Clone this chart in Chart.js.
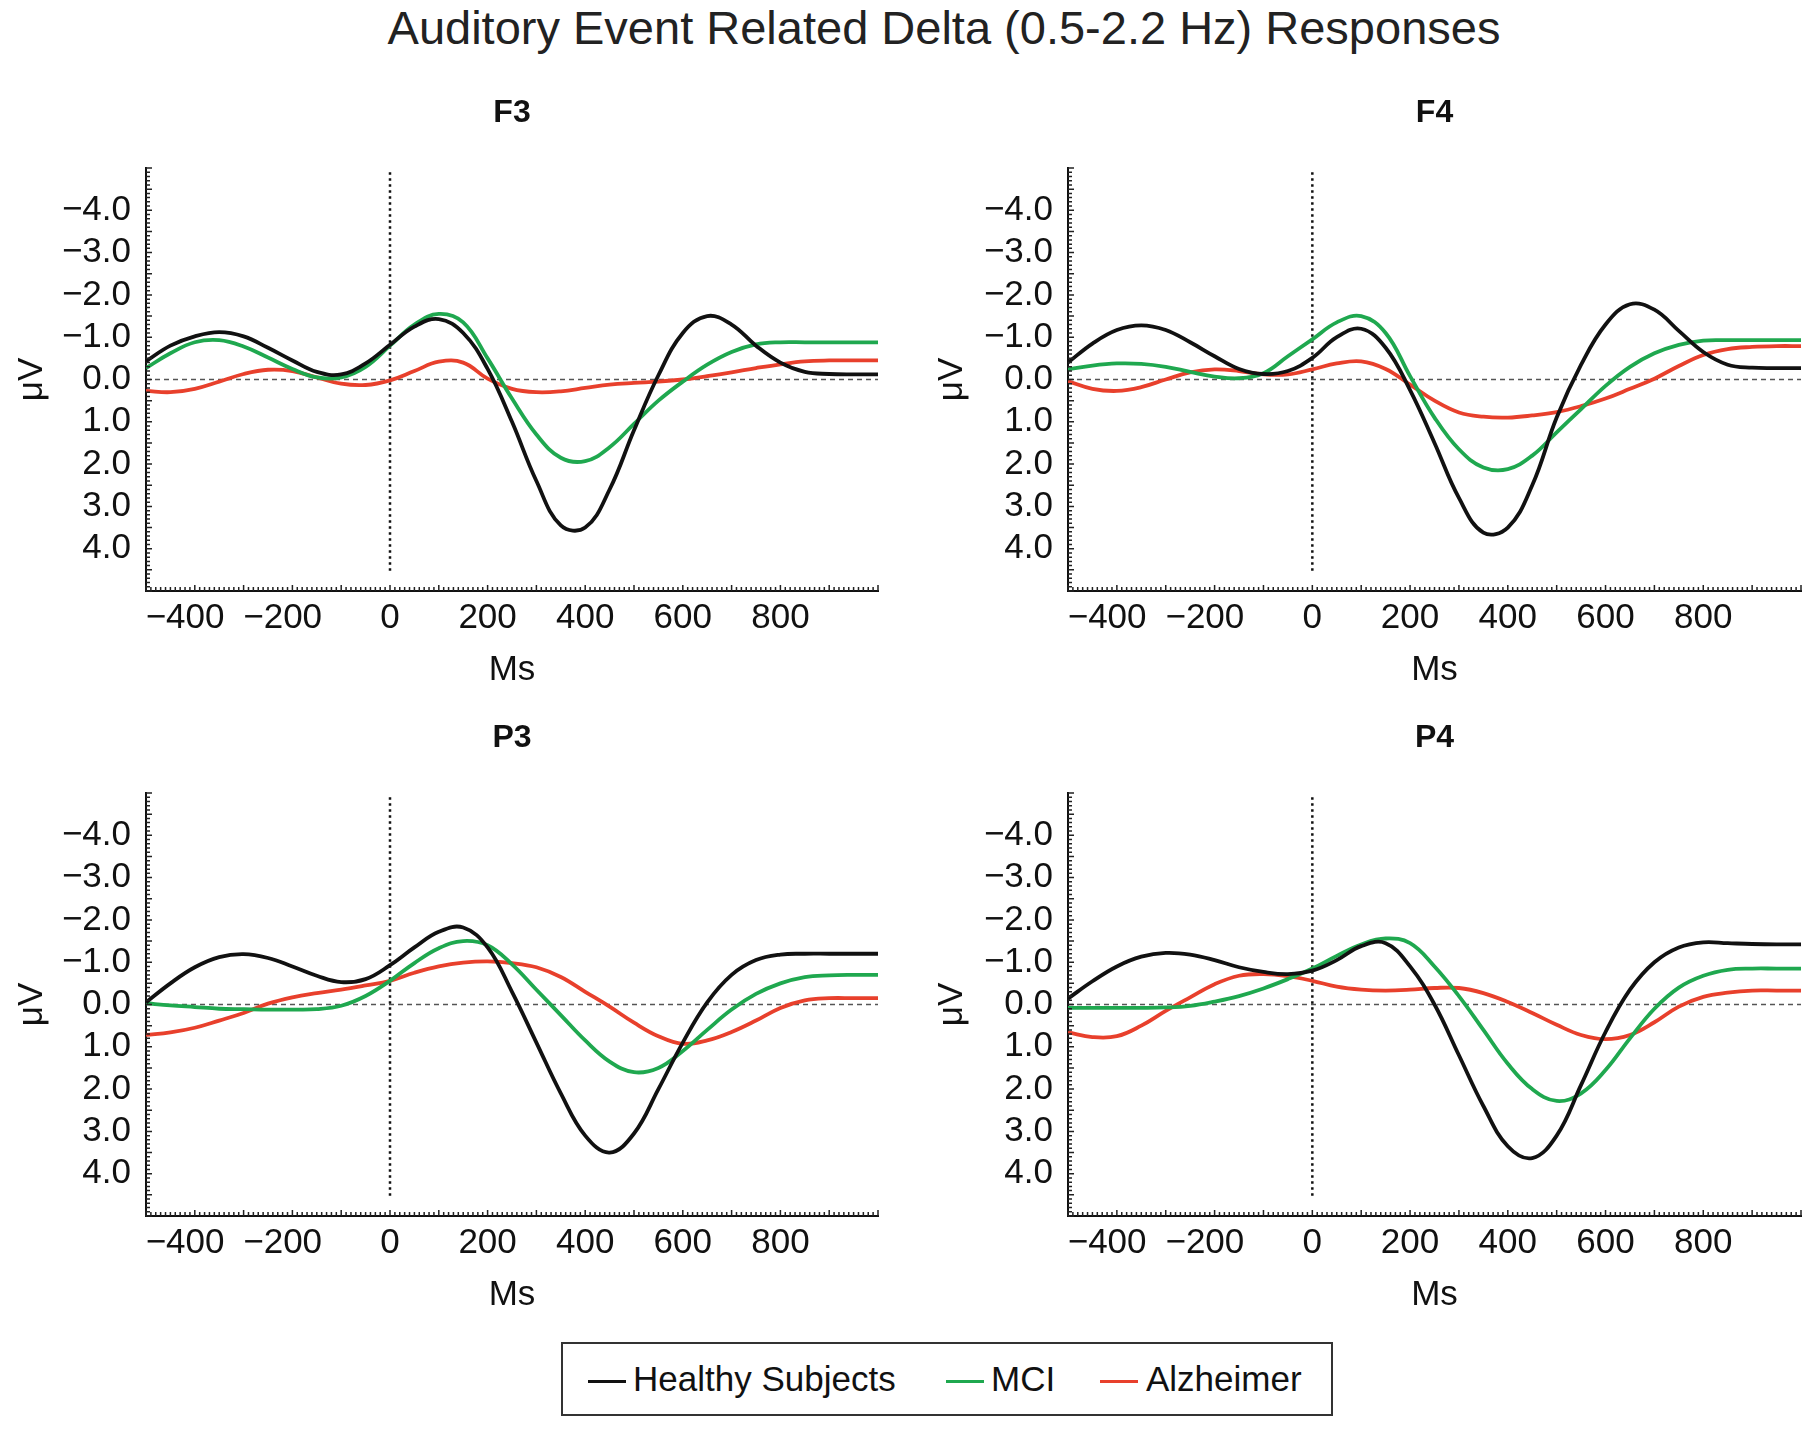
<!DOCTYPE html>
<html>
<head>
<meta charset="utf-8">
<title>Auditory Event Related Delta Responses</title>
<script src="https://cdn.jsdelivr.net/npm/chart.js@4.4.1/dist/chart.umd.min.js"></script>
<style>
  html, body { margin: 0; padding: 0; background: #fff; }
  body { width: 1813px; height: 1450px; position: relative; overflow: hidden;
         font-family: "Liberation Sans", Arial, sans-serif; color: #111; }
  #mainTitle { position: absolute; left: 244px; top: 4px; width: 1400px; text-align: center;
               font-size: 47px; line-height: 47px; color: #222; }
  .panel { position: absolute; height: 640px; }
  .panel canvas { display: block; }
  #legend { position: absolute; left: 561px; top: 1342px; width: 768px; height: 70px;
            border: 2px solid #333; }
  .lg-line { position: absolute; top: 36px; height: 3px; width: 38px; }
  .lg-text { position: absolute; top: 14px; font-size: 35px; line-height: 42px; }
</style>
</head>
<body>
<div id="mainTitle">Auditory Event Related Delta (0.5-2.2 Hz) Responses</div>

<div class="panel" style="left:0px;top:61px;width:906px;"><canvas id="chartF3"></canvas></div>
<div class="panel" style="left:906px;top:61px;width:907px;"><canvas id="chartF4"></canvas></div>
<div class="panel" style="left:0px;top:686px;width:906px;"><canvas id="chartP3"></canvas></div>
<div class="panel" style="left:906px;top:686px;width:907px;"><canvas id="chartP4"></canvas></div>

<div id="legend">
  <div class="lg-line" style="left:25px;background:#111;"></div>
  <div class="lg-text" style="left:70px;">Healthy Subjects</div>
  <div class="lg-line" style="left:383px;background:#1fa84f;"></div>
  <div class="lg-text" style="left:428px;">MCI</div>
  <div class="lg-line" style="left:537px;background:#e8402c;"></div>
  <div class="lg-text" style="left:583px;">Alzheimer</div>
</div>

<script>
// Time axis (ms) shared by every curve
const TIMES = [-500, -450, -400, -350, -300, -250, -200, -150, -100, -50,
               0, 50, 100, 150, 200, 250, 300, 350, 400, 450,
               500, 550, 600, 650, 700, 750, 800, 850, 900, 950, 1000];

const X_TICKS = [-400, -200, 0, 200, 400, 600, 800];
const Y_TICKS = [-4, -3, -2, -1, 0, 1, 2, 3, 4];

const SERIES_NAMES = ['Healthy Subjects', 'MCI', 'Alzheimer'];
const SERIES_COLORS = ['#111111', '#1fa84f', '#e8402c'];

// F3
const F3_HEALTHY = [-0.43, -0.8, -1.02, -1.12, -1.02, -0.75, -0.45, -0.18, -0.12, -0.38,
                    -0.82, -1.25, -1.43, -1.1, -0.25, 1.0, 2.4, 3.45, 3.5, 2.6,
                    1.2, -0.1, -1.1, -1.5, -1.3, -0.8, -0.4, -0.18, -0.13, -0.12, -0.12];
const F3_MCI = [-0.27, -0.62, -0.88, -0.93, -0.78, -0.52, -0.25, -0.05, -0.05, -0.3,
                -0.8, -1.3, -1.55, -1.35, -0.5, 0.45, 1.3, 1.85, 1.93, 1.6,
                1.05, 0.5, 0.05, -0.35, -0.65, -0.83, -0.88, -0.88, -0.88, -0.88, -0.88];
const F3_ALZ = [0.27, 0.3, 0.22, 0.05, -0.13, -0.23, -0.2, -0.05, 0.1, 0.13,
                0.02, -0.2, -0.42, -0.4, -0.02, 0.22, 0.3, 0.28, 0.2, 0.12,
                0.08, 0.05, 0.0, -0.08, -0.17, -0.27, -0.36, -0.43, -0.45, -0.45, -0.45];

// F4
const F4_HEALTHY = [-0.4, -0.85, -1.17, -1.28, -1.17, -0.88, -0.55, -0.25, -0.13, -0.2,
                    -0.51, -1.0, -1.2, -0.75, 0.25, 1.5, 2.8, 3.62, 3.5, 2.5,
                    0.9, -0.35, -1.3, -1.78, -1.65, -1.15, -0.65, -0.35, -0.28, -0.27, -0.27];
const F4_MCI = [-0.24, -0.33, -0.38, -0.37, -0.3, -0.18, -0.07, -0.03, -0.15, -0.55,
                -0.95, -1.35, -1.5, -1.1, -0.08, 0.9, 1.65, 2.08, 2.12, 1.8,
                1.25, 0.7, 0.15, -0.3, -0.62, -0.82, -0.92, -0.93, -0.93, -0.93, -0.93];
const F4_ALZ = [0.04, 0.22, 0.27, 0.18, 0.0, -0.17, -0.24, -0.2, -0.12, -0.12,
                -0.24, -0.38, -0.43, -0.25, 0.12, 0.5, 0.78, 0.88, 0.9, 0.85,
                0.77, 0.63, 0.45, 0.22, -0.02, -0.32, -0.58, -0.72, -0.77, -0.79, -0.79];

// P3
const P3_HEALTHY = [-0.05, -0.5, -0.88, -1.12, -1.19, -1.1, -0.9, -0.68, -0.53, -0.6,
                    -0.93, -1.35, -1.72, -1.82, -1.35, -0.3, 0.9, 2.1, 3.1, 3.5,
                    3.05, 2.0, 0.9, -0.05, -0.7, -1.05, -1.18, -1.2, -1.2, -1.2, -1.2];
const P3_MCI = [-0.03, 0.02, 0.06, 0.1, 0.11, 0.12, 0.12, 0.11, 0.03, -0.2,
                -0.56, -0.98, -1.33, -1.5, -1.4, -0.95, -0.35, 0.25, 0.85, 1.35,
                1.6, 1.5, 1.1, 0.6, 0.12, -0.25, -0.5, -0.65, -0.69, -0.7, -0.7];
const P3_ALZ = [0.72, 0.66, 0.55, 0.38, 0.2, -0.02, -0.17, -0.27, -0.35, -0.45,
                -0.56, -0.75, -0.9, -0.99, -1.02, -0.98, -0.88, -0.65, -0.3, 0.05,
                0.43, 0.75, 0.93, 0.85, 0.65, 0.38, 0.08, -0.1, -0.15, -0.15, -0.15];

// P4
const P4_HEALTHY = [-0.14, -0.55, -0.9, -1.13, -1.22, -1.18, -1.05, -0.88, -0.77, -0.72,
                    -0.8, -1.05, -1.38, -1.45, -0.9, 0.0, 1.2, 2.4, 3.35, 3.63,
                    3.1, 1.9, 0.65, -0.35, -1.0, -1.35, -1.47, -1.45, -1.43, -1.42, -1.42];
const P4_MCI = [0.08, 0.08, 0.08, 0.08, 0.07, 0.03, -0.07, -0.2, -0.38, -0.6,
                -0.85, -1.15, -1.42, -1.56, -1.45, -0.9, -0.2, 0.6, 1.4, 2.0,
                2.28, 2.1, 1.55, 0.8, 0.1, -0.4, -0.68, -0.82, -0.85, -0.85, -0.85];
const P4_ALZ = [0.66, 0.77, 0.75, 0.5, 0.15, -0.17, -0.48, -0.68, -0.72, -0.67,
                -0.56, -0.42, -0.35, -0.33, -0.35, -0.39, -0.39, -0.27, -0.06, 0.2,
                0.48, 0.72, 0.82, 0.72, 0.42, 0.05, -0.18, -0.28, -0.33, -0.33, -0.33];

const FONT = '"Liberation Sans", Arial, sans-serif';

function minusLabel(v, digits) {
  const txt = Math.abs(v).toFixed(digits);
  return v < 0 ? '\u2212' + txt : txt;
}

// Zero line, stimulus line and the small tick marks along both axes
const erpDecor = {
  id: 'erpDecor',
  beforeDatasetsDraw(chart) {
    const { ctx, chartArea, scales: { x, y } } = chart;
    ctx.save();
    // dashed zero line
    ctx.strokeStyle = '#555';
    ctx.lineWidth = 1.6;
    ctx.setLineDash([5, 4]);
    ctx.beginPath();
    ctx.moveTo(chartArea.left, y.getPixelForValue(0));
    ctx.lineTo(chartArea.right, y.getPixelForValue(0));
    ctx.stroke();
    // dotted stimulus onset line
    ctx.strokeStyle = '#111';
    ctx.lineWidth = 2.5;
    ctx.setLineDash([2.5, 3.5]);
    ctx.beginPath();
    ctx.moveTo(x.getPixelForValue(0), y.getPixelForValue(-4.9));
    ctx.lineTo(x.getPixelForValue(0), y.getPixelForValue(4.55));
    ctx.stroke();
    ctx.restore();
  },
  afterDraw(chart) {
    const { ctx, chartArea, scales: { x, y } } = chart;
    ctx.save();
    ctx.strokeStyle = '#222';
    ctx.lineWidth = 1.5;
    ctx.beginPath();
    for (let m = -500; m <= 1000; m += 10) {
      const px = x.getPixelForValue(m);
      const len = (m % 100 === 0) ? 6 : 4;
      ctx.moveTo(px, chartArea.bottom);
      ctx.lineTo(px, chartArea.bottom - len);
    }
    for (let k = -50; k <= 50; k++) {
      const py = y.getPixelForValue(k / 10);
      const len = (k % 5 === 0) ? 6 : 4;
      ctx.moveTo(chartArea.left, py);
      ctx.lineTo(chartArea.left + len, py);
    }
    ctx.stroke();
    ctx.restore();
  }
};

function makePanel(canvasId, title, series, yWidth, rightPad, muvPad) {
  const datasets = series.map((vals, i) => ({
    label: SERIES_NAMES[i],
    data: TIMES.map((t, j) => ({ x: t, y: vals[j] })),
    borderColor: SERIES_COLORS[i],
    borderWidth: 3.8,
    pointRadius: 0,
    tension: 0.4,
    fill: false
  }));

  return new Chart(document.getElementById(canvasId), {
    type: 'line',
    data: { datasets: datasets },
    options: {
      responsive: true,
      maintainAspectRatio: false,
      animation: false,
      events: [],
      layout: { padding: { left: 0, right: rightPad, top: 0, bottom: 10 } },
      plugins: {
        legend: { display: false },
        tooltip: { enabled: false },
        title: {
          display: true,
          text: title,
          fullSize: false,
          color: '#111',
          font: { family: FONT, size: 32, weight: 'bold', lineHeight: 1.2 },
          padding: { top: 32.8, bottom: 35.8 }
        }
      },
      scales: {
        x: {
          type: 'linear',
          min: -500,
          max: 1000,
          grid: { display: false },
          border: { display: true, color: '#111', width: 2 },
          afterBuildTicks: (scale) => { scale.ticks = X_TICKS.map(v => ({ value: v })); },
          afterFit: (scale) => { scale.height = 100; },
          ticks: {
            color: '#111',
            padding: -2,
            maxRotation: 0,
            autoSkip: false,
            font: { family: FONT, size: 35, lineHeight: 1.2 },
            callback: (v) => v < 0 ? minusLabel(v, 0) + '\u2007' : String(v)
          },
          title: {
            display: true,
            text: 'Ms',
            color: '#111',
            font: { family: FONT, size: 35, lineHeight: 1.2 },
            padding: 0
          }
        },
        y: {
          type: 'linear',
          min: -5,
          max: 5,
          reverse: true,
          grid: { display: false },
          border: { display: true, color: '#111', width: 2 },
          afterBuildTicks: (scale) => { scale.ticks = Y_TICKS.map(v => ({ value: v })); },
          afterFit: (scale) => { scale.width = yWidth; },
          ticks: {
            color: '#111',
            padding: 7,
            autoSkip: false,
            font: { family: FONT, size: 35, lineHeight: 1.2 },
            callback: (v) => minusLabel(v, 1)
          },
          title: {
            display: true,
            text: 'μV',
            color: '#111',
            font: { family: FONT, size: 35, lineHeight: 1.2 },
            padding: { top: muvPad, bottom: 0 }
          }
        }
      }
    },
    plugins: [erpDecor]
  });
}

makePanel('chartF3', 'F3', [F3_HEALTHY, F3_MCI, F3_ALZ], 146, 28, 11);
makePanel('chartF4', 'F4', [F4_HEALTHY, F4_MCI, F4_ALZ], 162, 12, 25);
makePanel('chartP3', 'P3', [P3_HEALTHY, P3_MCI, P3_ALZ], 146, 28, 11);
makePanel('chartP4', 'P4', [P4_HEALTHY, P4_MCI, P4_ALZ], 162, 12, 25);
</script>
</body>
</html>
